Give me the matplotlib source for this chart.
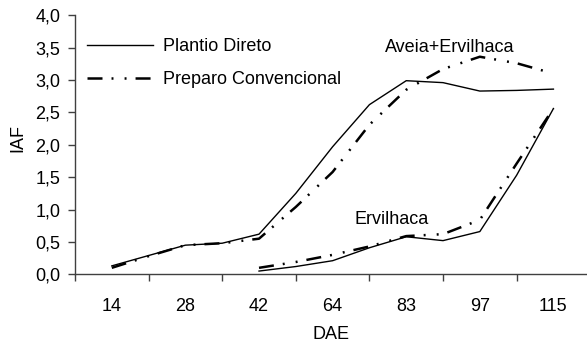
import matplotlib
matplotlib.use("Agg")
import matplotlib.pyplot as plt
from matplotlib.ticker import FixedLocator, FuncFormatter
import numpy as np

plt.rcParams['font.family'] = ['Liberation Sans', 'DejaVu Sans']
plt.rcParams['lines.scale_dashes'] = False

dae_labels = ['14', '28', '42', '64', '83', '97', '115']

# IAF readings every half category step (from 14 DAE for Aveia+Ervilhaca,
# from 42 DAE for Ervilhaca)
ae_plantio = [0.13, 0.29, 0.45, 0.48, 0.62, 1.25, 1.97, 2.62, 2.99, 2.96, 2.83, 2.84, 2.86]
ae_preparo = [0.10, 0.28, 0.45, 0.48, 0.55, 1.04, 1.58, 2.31, 2.85, 3.17, 3.36, 3.26, 3.10]
erv_plantio = [0.05, 0.12, 0.21, 0.41, 0.58, 0.52, 0.66, 1.53, 2.56]
erv_preparo = [0.10, 0.19, 0.30, 0.43, 0.59, 0.62, 0.84, 1.71, 2.56]

fs = 13
dashdotdot = (0, (10.8, 6.5, 1.4, 8, 1.4, 6.5))

fig = plt.figure(figsize=(5.87, 3.42), dpi=100)
ax = fig.add_axes([75 / 587, 1 - 274.3 / 342, 1 - 75 / 587, (274.3 - 15.3) / 342])

x_ae = np.arange(len(ae_plantio)) / 2
x_erv = 2 + np.arange(len(erv_plantio)) / 2

ax.plot(x_ae, ae_plantio, color='black', lw=1.0, label='Plantio Direto')
ax.plot(x_ae, ae_preparo, color='black', lw=1.8, linestyle=dashdotdot,
        label='Preparo Convencional')
ax.plot(x_erv, erv_plantio, color='black', lw=1.0)
ax.plot(x_erv, erv_preparo, color='black', lw=1.8, linestyle=dashdotdot)

ax.set_xlim(-0.5, 6.456)
ax.set_ylim(0, 4.0)
ax.set_yticks(np.arange(0, 4.01, 0.5))
ax.yaxis.set_major_formatter(FuncFormatter(lambda v, p: f"{v:.1f}".replace('.', ',')))

ax.set_xticks(range(len(dae_labels)))
ax.set_xticklabels(dae_labels)
ax.xaxis.set_minor_locator(FixedLocator(np.arange(-0.5, 6.0, 1.0)))
ax.tick_params(axis='x', which='major', length=0, pad=17, labelsize=fs)
ax.tick_params(axis='x', which='minor', length=5, width=1, color='#404040', direction='out')
ax.tick_params(axis='y', length=5, width=1, color='#404040', pad=5.5, labelsize=fs)

for s in ['top', 'right']:
    ax.spines[s].set_visible(False)
for s in ['left', 'bottom']:
    ax.spines[s].set_color('#404040')
    ax.spines[s].set_linewidth(1)

ax.set_xlabel('DAE', fontsize=fs, labelpad=8)
ax.set_ylabel('IAF', fontsize=fs)
ax.yaxis.set_label_coords(-0.094, 0.526)

ax.text(3.71, 3.51, 'Aveia+Ervilhaca', fontsize=fs, ha='left', va='center')
ax.text(3.30, 0.84, 'Ervilhaca', fontsize=fs, ha='left', va='center')

ax.legend(loc='upper left', bbox_to_anchor=(87 / 587, 1 - 38 / 342),
          bbox_transform=fig.transFigure, frameon=False, fontsize=fs,
          handlelength=3.65, handletextpad=0.55, labelspacing=0.88,
          borderaxespad=0, borderpad=0)

fig.savefig('out.png', dpi=100)
